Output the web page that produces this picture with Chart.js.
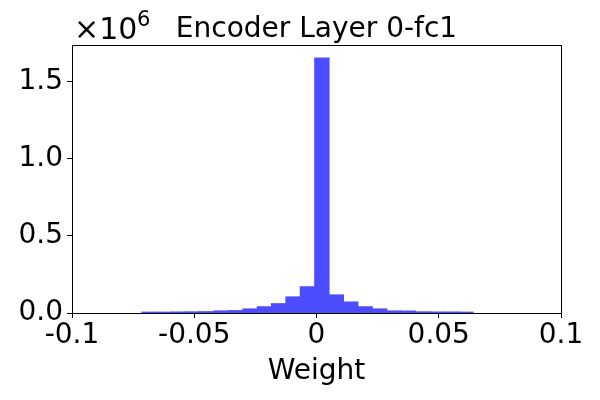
<!DOCTYPE html>
<html>
<head>
<meta charset="utf-8">
<script src="https://cdn.jsdelivr.net/npm/chart.js@4.4.0/dist/chart.umd.min.js"></script>
<style>
  html, body { margin: 0; padding: 0; background: #fff; }
  #wrap { width: 600px; height: 400px; }
</style>
</head>
<body>
<div id="wrap"><canvas id="hist"></canvas></div>
<script>
// bin centres (weight) and counts
const binCenters = [-0.0685, -0.0626, -0.0567, -0.0508, -0.0449, -0.0390, -0.0331, -0.0272,
  -0.0213, -0.0155, -0.0096, -0.0037, 0.0022, 0.0081, 0.0140, 0.0199, 0.0258, 0.0317,
  0.0376, 0.0435, 0.0493, 0.0552, 0.0611];
const counts = [5000, 5000, 6000, 7000, 8000, 13000, 15000, 26000, 40000, 60000, 104000, 170000,
  1655000, 117000, 71000, 40000, 26000, 13000, 12000, 7000, 6000, 6000, 5000];
const xTicks = [-0.1, -0.05, 0, 0.05, 0.1];
const xTickLabels = ["-0.1", "-0.05", "0", "0.05", "0.1"];
const yTicks = [0, 500000, 1000000, 1500000];

const titleText = "Encoder Layer 0-fc1";
const FONT = "'DejaVu Sans', sans-serif";

const framePlugin = {
  id: "frame",
  afterDraw(chart) {
    const { ctx, chartArea: a } = chart;
    ctx.save();
    ctx.strokeStyle = "#000";
    ctx.lineWidth = 1;
    ctx.strokeRect(a.left + 0.5, a.top + 0.5, a.right - a.left, a.bottom - a.top);
    // title
    ctx.fillStyle = "#000";
    ctx.textBaseline = "alphabetic";
    ctx.textAlign = "center";
    ctx.font = "28px " + FONT;
    ctx.fillText(titleText, (a.left + a.right) / 2, 37);
    // offset text x10^6
    ctx.textAlign = "left";
    ctx.font = "30px " + FONT;
    ctx.fillText("\u00d710", 74, 39);
    ctx.font = "21px " + FONT;
    ctx.fillText("6", 137, 26);
    ctx.restore();
  }
};

new Chart(document.getElementById("hist"), {
  type: "bar",
  data: {
    datasets: [{
      data: binCenters.map((x, i) => ({ x: x, y: counts[i] })),
      backgroundColor: "#4d4dff",
      borderWidth: 0,
      inflateAmount: 0.6,
      barPercentage: 1.0,
      categoryPercentage: 1.0
    }]
  },
  options: {
    responsive: true,
    maintainAspectRatio: false,
    animation: false,
    layout: { padding: { left: 0, right: 39, top: 45, bottom: 0 } },
    plugins: { legend: { display: false }, tooltip: { enabled: false } },
    scales: {
      x: {
        type: "linear",
        min: -0.1,
        max: 0.1,
        offset: false,
        afterBuildTicks(scale) { scale.ticks = xTicks.map(v => ({ value: v })); },
        afterFit(scale) { scale.height = 87; },
        grid: { offset: false, drawOnChartArea: false, drawTicks: true, tickLength: 5, color: "#000" },
        border: { display: true, color: "#000" },
        ticks: {
          color: "#000",
          font: { family: FONT, size: 28 },
          padding: 1,
          maxRotation: 0,
          callback: (v) => xTickLabels[xTicks.indexOf(v)] ?? ""
        },
        title: {
          display: true,
          text: "Weight",
          color: "#000",
          font: { family: FONT, size: 28 },
          padding: { top: 0, bottom: 11 }
        }
      },
      y: {
        min: 0,
        max: 1740000,
        afterBuildTicks(scale) { scale.ticks = yTicks.map(v => ({ value: v })); },
        afterFit(scale) { scale.width = 72; },
        grid: { drawOnChartArea: false, drawTicks: true, tickLength: 5, color: "#000" },
        border: { display: true, color: "#000" },
        ticks: {
          color: "#000",
          font: { family: FONT, size: 28 },
          padding: 4,
          callback: (v) => (v / 1e6).toFixed(1)
        }
      }
    }
  },
  plugins: [framePlugin]
});
</script>
</body>
</html>
